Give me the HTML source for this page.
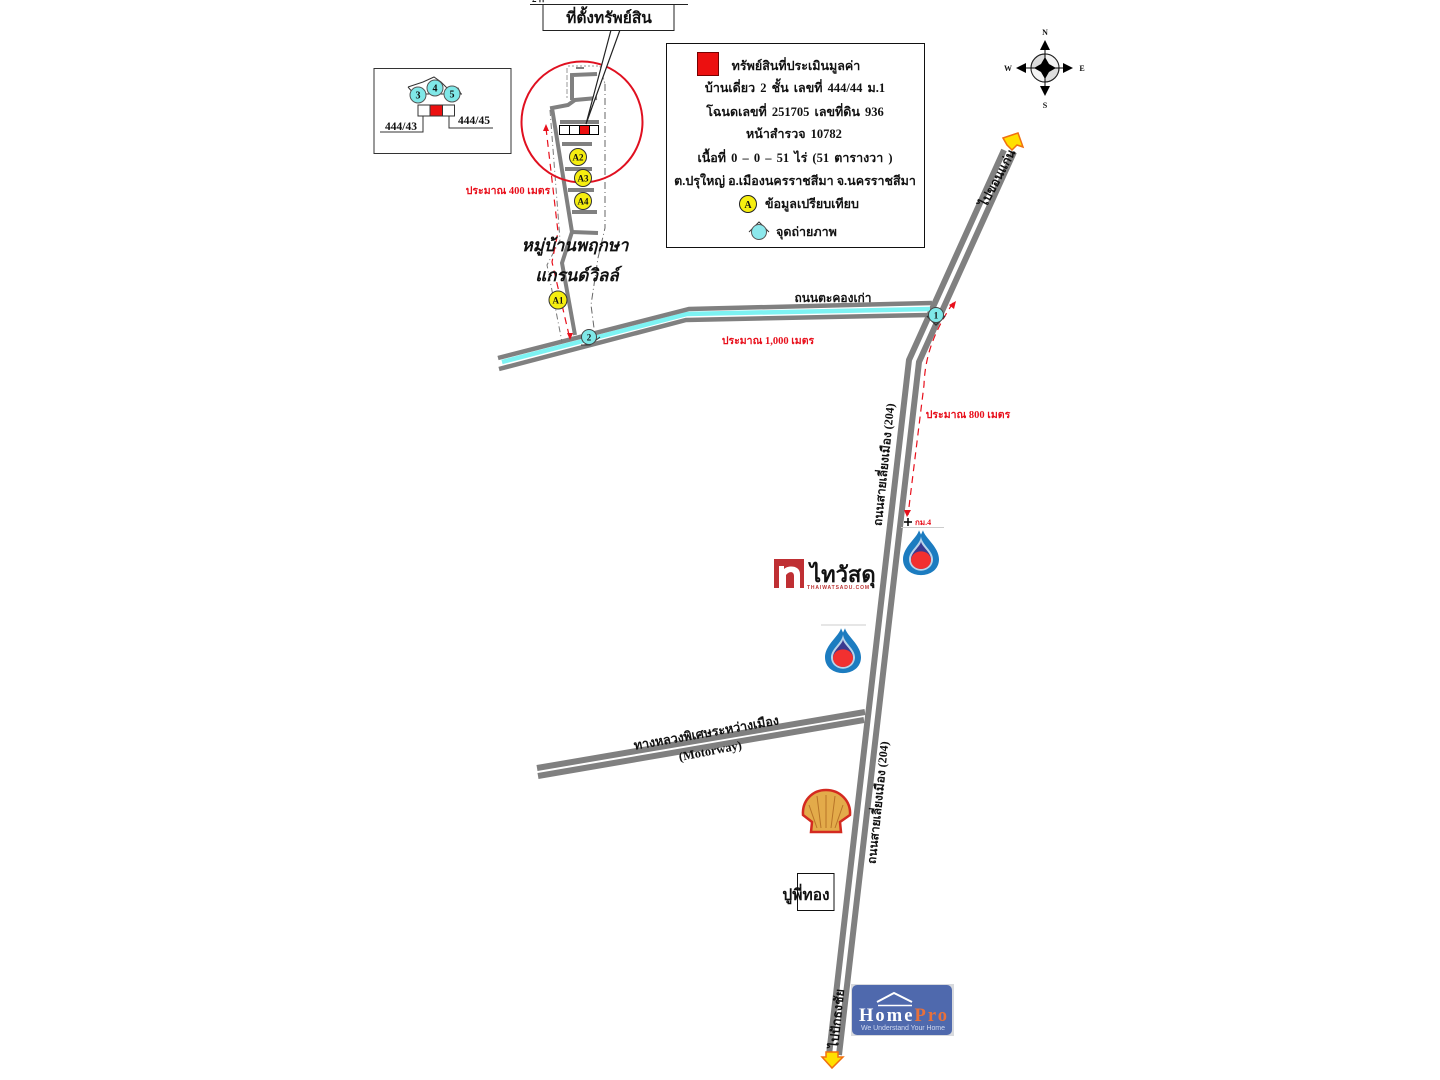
<!DOCTYPE html>
<html><head><meta charset="utf-8"><style>
html,body{margin:0;padding:0;background:#fff;width:1440px;height:1080px;overflow:hidden}
svg{display:block}
text{font-family:"Liberation Serif","Noto Serif CJK SC",serif;font-weight:bold;fill:#111}
.road{fill:none;stroke:#808080;stroke-width:6;stroke-linejoin:round}
.side{fill:none;stroke:#808080;stroke-width:4.5}
.s{fill:none;stroke:#808080;stroke-width:4}
.c{text-anchor:middle}
.lg{font-size:12.5px;word-spacing:2px}
</style></head><body>
<svg width="1440" height="1080" viewBox="0 0 1440 1080" xmlns="http://www.w3.org/2000/svg">
<defs>
<g id="drop">
<path d="M-2 -27C-4 -18 -18 -8 -18 6C-18 18 -9 24 0 24C9 24 18 18 18 6C18 -8 4 -18 2 -27L0 -22Z" fill="#1c7cc0"/>
<path d="M0 -20C-1 -10 -12 -4 -12 6C-12 14 -6 19 0 19C6 19 12 14 12 6C12 -4 1 -10 0 -20Z" fill="#b9d4ea"/>
<path d="M0 -14C-1 -8 -10 -2 -10 6C-10 13 -5 17 0 17C5 17 10 13 10 6C10 -2 1 -8 0 -14Z" fill="#3a3a90"/>
<circle cx="0" cy="7" r="10" fill="#f23030"/>
</g>
</defs>

<!-- main roads -->
<path class="road" d="M1004 150L909 360L829 1055"/>
<path class="road" d="M1014 152L919 362L839 1055"/>
<path d="M1003 138L1018 133L1023 147L1017 145L1012 150L1007 145Z" fill="#ffe000" stroke="#f07010" stroke-width="1.5"/>
<path d="M826 1052H838V1057H843L832 1068L822 1057H826Z" fill="#ffe000" stroke="#f07010" stroke-width="1.5"/>

<!-- side road -->
<path d="M502 362L687 314L930 309" fill="none" stroke="#7df3f3" stroke-width="4.5"/>
<path class="side" d="M498 358L689 309L932 303"/>
<path class="side" d="M499 369L686 320L928 315"/>

<!-- motorway -->
<path class="road" d="M537 768L865 712"/>
<path class="road" d="M538 776L864 720"/>

<!-- soi -->
<path class="s" d="M575 335L562 263L572 232L552 108L568 105L575 100L597 98"/>
<path class="s" d="M572 100L572 75L597 74"/>
<path class="s" d="M560 122L599 122M562 144L592 144M565 169L592 169M568 190L594 190M572 212L597 212M572 232L598 233"/>
<path d="M576 68L584 68" stroke="#555" stroke-width="1.5"/>

<!-- boundary dash-dot -->
<path d="M605 84L605 228L598 258L591 305L594 328" fill="none" stroke="#666" stroke-width="1" stroke-dasharray="7 3 1 3"/>
<path d="M568 66L600 66L605 84" fill="none" stroke="#999" stroke-width="1" stroke-dasharray="2 2"/>
<path d="M550 110L560 240L547 265L562 342" fill="none" stroke="#777" stroke-width="1" stroke-dasharray="6 3 1 3"/>
<path d="M567 68L567 98" fill="none" stroke="#999" stroke-width="1" stroke-dasharray="5 2"/>

<!-- red dashed routes -->
<path d="M546 128L558 232L552 262L569 335" fill="none" stroke="#e8101c" stroke-width="1.2" stroke-dasharray="7 5"/>
<path d="M546 124L543 131L549 131Z" fill="#e8101c"/>
<path d="M570 340L567 333L573 333Z" fill="#e8101c"/>
<path d="M953 303C935 330 925 355 924 385L908 515" fill="none" stroke="#e8101c" stroke-width="1.2" stroke-dasharray="7 5"/>
<path d="M956 301L949 305L954 309Z" fill="#e8101c"/>
<path d="M907 517L904 510L911 510Z" fill="#e8101c"/>

<!-- house row and circle -->
<rect x="559.5" y="125.5" width="39" height="9" fill="#fff" stroke="#000" stroke-width="1"/>
<path d="M569.5 125.5V134.5M579.5 125.5V134.5M589.5 125.5V134.5" stroke="#000" fill="none"/>
<rect x="579.5" y="125.5" width="10" height="9" fill="#ec1010" stroke="#000"/>
<circle cx="582" cy="122" r="60.5" fill="none" stroke="#e01020" stroke-width="2"/>

<!-- callout -->
<path d="M611 30L586 124L620 30Z" fill="#fff" stroke="#222" stroke-width="1.2"/>
<path d="M530 4.5H688" stroke="#222" stroke-width="1"/>
<rect x="543" y="4.5" width="131" height="26" fill="#fff" stroke="#222" stroke-width="1"/>
<text x="609" y="23" class="c" font-size="15.5">ที่ตั้งทรัพย์สิน</text>
<text x="532" y="2" font-size="9">2 ก</text>

<!-- inset box -->
<rect x="374" y="68.5" width="137" height="85" fill="#fff" stroke="#333" stroke-width="1"/>
<path d="M408 87L414 94L462 94M408 87L423 82L434 77L441 82L447 88L458 88L461 94" fill="none" stroke="#333" stroke-width="1"/>
<circle cx="418" cy="95" r="8" fill="#7fe8e8" stroke="#555"/>
<circle cx="435" cy="88" r="8" fill="#7fe8e8" stroke="#555"/>
<circle cx="452" cy="94" r="8" fill="#7fe8e8" stroke="#555"/>
<text x="418" y="98.500" class="c" font-size="10">3</text>
<text x="435" y="91.500" class="c" font-size="10">4</text>
<text x="452" y="97.500" class="c" font-size="10">5</text>
<rect x="418" y="105" width="36.500" height="11" fill="#fff" stroke="#333"/>
<rect x="430" y="105" width="12.500" height="11" fill="#ec1010" stroke="#333"/>
<path d="M380 132H423V116M449 116V128H493" fill="none" stroke="#333"/>
<text x="385" y="130" font-size="11.500">444/43</text>
<text x="458" y="124" font-size="11.500">444/45</text>

<!-- legend -->
<rect x="666.500" y="43.500" width="258" height="204" fill="#fff" stroke="#111" stroke-width="1"/>
<rect x="697.500" y="52.500" width="21" height="23" fill="#ec1010" stroke="#700"/>
<text x="796" y="70" class="c lg">ทรัพย์สินที่ประเมินมูลค่า</text>
<text x="795" y="92" class="c lg">บ้านเดี่ยว 2 ชั้น เลขที่ 444/44 ม.1</text>
<text x="795" y="116" class="c lg">โฉนดเลขที่ 251705 เลขที่ดิน 936</text>
<text x="794" y="138" class="c lg">หน้าสำรวจ 10782</text>
<text x="795" y="162" class="c lg">เนื้อที่ 0 – 0 – 51 ไร่ (51 ตารางวา )</text>
<text x="795" y="185" class="c lg" style="word-spacing:0">ต.ปรุใหญ่ อ.เมืองนครราชสีมา จ.นครราชสีมา</text>
<circle cx="748" cy="204" r="8.500" fill="#f6ee10" stroke="#222"/>
<text x="748" y="208" class="c" font-size="10">A</text>
<text x="765" y="208" font-size="12.500">ข้อมูลเปรียบเทียบ</text>
<path d="M749 232L759 222L769 232" fill="none" stroke="#333"/>
<circle cx="759" cy="232" r="7.500" fill="#8ce8ec" stroke="#555"/>
<text x="776" y="236" font-size="12.500">จุดถ่ายภาพ</text>

<!-- compass -->
<circle cx="1045" cy="68" r="14" fill="#ddd" stroke="#222" stroke-width="1"/>
<path d="M1045 54A14 14 0 0 1 1059 68H1045ZM1045 82A14 14 0 0 1 1031 68H1045Z" fill="#f4f4f4"/>
<circle cx="1045" cy="68" r="14" fill="none" stroke="#222" stroke-width="1"/>
<path d="M1045 41V95M1018 68H1072" stroke="#000" stroke-width="1"/>
<path d="M1045 40L1050 50H1040ZM1045 96L1050 86H1040ZM1016 68L1026 63V73ZM1073 68L1063 63V73Z" fill="#000"/>
<path d="M1045 57L1049 64L1056 68L1049 72L1045 79L1041 72L1034 68L1041 64Z" fill="#000"/>
<text x="1045" y="35" class="c" font-size="8">N</text>
<text x="1045" y="108" class="c" font-size="8">S</text>
<text x="1008" y="71" class="c" font-size="8">W</text>
<text x="1082" y="71" class="c" font-size="8">E</text>

<!-- comparison markers -->
<g font-size="9" text-anchor="middle">
<circle cx="578" cy="157" r="8.500" fill="#f6ee10" stroke="#333"/><text x="578" y="160.500">A2</text>
<circle cx="583" cy="178" r="8.500" fill="#f6ee10" stroke="#333"/><text x="583" y="181.500">A3</text>
<circle cx="583" cy="201" r="8.500" fill="#f6ee10" stroke="#333"/><text x="583" y="204.500">A4</text>
<circle cx="558" cy="300" r="9" fill="#f6ee10" stroke="#333"/><text x="558" y="303.500">A1</text>
</g>
<!-- photo points -->
<path d="M927 316L936 325L945 316" fill="none" stroke="#333" stroke-width="1.500"/>
<circle cx="936" cy="315" r="7.500" fill="#7fe8e8" stroke="#444"/>
<text x="936" y="318.500" class="c" font-size="9">1</text>
<path d="M581 345L590 345L600 337" fill="none" stroke="#333"/>
<circle cx="589" cy="337" r="7.500" fill="#7fe8e8" stroke="#444"/>
<text x="589" y="340.500" class="c" font-size="9">2</text>

<!-- labels -->
<text x="575" y="251" class="c" font-size="17" font-style="italic">หมู่บ้านพฤกษา</text>
<text x="577" y="281" class="c" font-size="17" font-style="italic">แกรนด์วิลล์</text>
<text x="833" y="302" class="c" font-size="12">ถนนตะคองเก่า</text>
<text class="c" style="fill:#e8101c" x="508" y="194" font-size="10.500">ประมาณ 400 เมตร</text>
<text class="c" style="fill:#e8101c" x="768" y="344" font-size="10.500">ประมาณ 1,000 เมตร</text>
<text class="c" style="fill:#e8101c" x="968" y="418" font-size="10.500">ประมาณ 800 เมตร</text>
<text transform="translate(888,465) rotate(-84)" class="c" font-size="12">ถนนสายเลี่ยงเมือง (204)</text>
<text transform="translate(882,803) rotate(-84)" class="c" font-size="12">ถนนสายเลี่ยงเมือง (204)</text>
<text transform="translate(1001,180) rotate(-62)" class="c" font-size="12.500">ไปขอนแก่น</text>
<text transform="translate(841,1019) rotate(-84)" class="c" font-size="12.500">ไปปักธงชัย</text>
<text transform="translate(707,737) rotate(-10)" class="c" font-size="12.500">ทางหลวงพิเศษระหว่างเมือง</text>
<text transform="translate(711,755) rotate(-11)" class="c" font-size="12.500">(Motorway)</text>

<!-- km marker -->
<path d="M904 522H912M908 518V526" stroke="#000" stroke-width="1.500"/>
<text x="915" y="525" font-size="8" style="fill:#e8101c">กม.4</text>
<path d="M901 527.500H944" stroke="#ccc"/>

<!-- PTT logos -->
<use href="#drop" transform="translate(921,554) scale(1,.88)"/>
<path d="M821 625H866" stroke="#ccc"/>
<use href="#drop" transform="translate(843,652) scale(1,.88)"/>

<!-- Thai Watsadu logo -->
<rect x="774" y="559" width="30" height="29" fill="#bf2f33"/>
<path d="M779 588V566H784V569C788 565 800 565 800 574V588H794V576C794 571 789 571 786 575V588Z" fill="#fff"/>
<text x="810" y="582" font-size="22" style="font-family:'Liberation Sans',sans-serif">ไทวัสดุ</text>
<text x="807" y="589" font-size="5" style="fill:#b33;font-family:'Liberation Sans',sans-serif" textLength="62">THAIWATSADU.COM</text>

<!-- Shell logo -->
<path d="M826 790C812 790 802 801 803 815L812 822L811 832H841L840 822L850 815C851 801 840 790 826 790Z" fill="#e3ab4a" stroke="#d42a20" stroke-width="2.500"/>
<path d="M826 795V828M817 796L821 828M835 796L831 828M809 805L817 828M843 805L835 828" stroke="#b87428" stroke-width="1" fill="none"/>

<!-- Pu Phithong -->
<rect x="797.500" y="873.500" width="36.500" height="37" fill="none" stroke="#111"/>
<text x="806" y="900" class="c" font-size="15.500">ปูพี่ทอง</text>

<!-- HomePro -->
<rect x="851" y="984" width="103" height="52" fill="#d8dade"/>
<rect x="852" y="985" width="100" height="50" rx="5" fill="#4f69ad"/>
<path d="M877 1002L894 993L912 1002" fill="none" stroke="#fff" stroke-width="2"/>
<path d="M878 1005.500H912" stroke="#fff" stroke-width="1.500"/>
<text x="859" y="1021" font-size="18.500" textLength="88" style="fill:#fff">Home<tspan style="fill:#e8703a">Pro</tspan></text>
<text x="903" y="1030" class="c" font-size="7" textLength="84" style="fill:#cfd8f0;font-family:'Liberation Sans',sans-serif;font-weight:normal">We Understand Your Home</text>
</svg>
</body></html>
